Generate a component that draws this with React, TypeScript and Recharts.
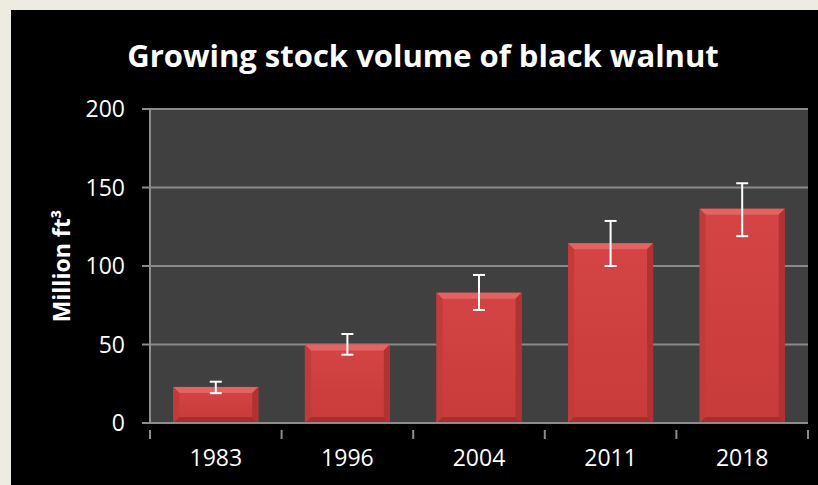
import React from "react";
import { BarChart, Bar, XAxis, YAxis, CartesianGrid, ErrorBar } from "recharts";

const years = ["1983", "1996", "2004", "2011", "2018"];
const volumes = [23, 50, 83, 114.5, 136.5];
const errLow = [4, 6.5, 11, 14.5, 17.5];
const errHigh = [3.3, 6.7, 11.3, 14.2, 16.2];
const yTicks = [0, 50, 100, 150, 200];

const data = years.map((y, i) => ({
  year: y,
  volume: volumes[i],
  err: [errLow[i], errHigh[i]],
}));

const W = 818;
const H = 485;
const M = { top: 109, right: 10, bottom: 0, left: 0 };
const Y_AXIS_W = 150;
const X_AXIS_H = 62;
const FONT = "'Open Sans', 'Liberation Sans', sans-serif";

const BevelBar = (props: any) => {
  const { x, y, width, height } = props;
  if (!height || height <= 0) return null;
  const b = Math.min(6, height / 2, width / 2);
  const x2 = x + width;
  const y2 = y + height;
  return (
    <g>
      <rect x={x} y={y} width={width} height={height} fill="url(#barFace)" />
      <polygon points={`${x},${y} ${x2},${y} ${x2 - b},${y + b} ${x + b},${y + b}`} fill="#e46262" />
      <polygon points={`${x},${y} ${x + b},${y + b} ${x + b},${y2 - b} ${x},${y2}`} fill="#c23a3a" />
      <polygon points={`${x2},${y} ${x2},${y2} ${x2 - b},${y2 - b} ${x2 - b},${y + b}`} fill="#b03232" />
      <polygon points={`${x},${y2} ${x + b},${y2 - b} ${x2 - b},${y2 - b} ${x2},${y2}`} fill="#a82e2e" />
    </g>
  );
};

const plotW = W - M.left - M.right - Y_AXIS_W;
const band = plotW / years.length;

const XTick = (props: any) => {
  const { x, y, payload, index } = props;
  const left = x - band / 2;
  return (
    <g>
      <line x1={left} y1={y - 1} x2={left} y2={y + 8} stroke="#8c8c8c" strokeWidth={2} />
      {index === years.length - 1 && (
        <line x1={x + band / 2} y1={y - 1} x2={x + band / 2} y2={y + 8} stroke="#8c8c8c" strokeWidth={2} />
      )}
      <text x={x} y={y + 35} textAnchor="middle" fill="#ffffff" fontSize={23} fontFamily={FONT}>
        {payload.value}
      </text>
    </g>
  );
};

export default function App() {
  return (
    <div style={{ position: "absolute", left: 0, top: 0, width: W, height: H, background: "#eeebe1", overflow: "hidden" }}>
      <div style={{ position: "absolute", left: 11, top: 10, width: W - 11, height: H - 10, background: "#000000" }} />
      <div
        style={{
          position: "absolute",
          left: 0,
          top: 33,
          width: 846,
          textAlign: "center",
          color: "#ffffff",
          fontFamily: FONT,
          fontWeight: 700,
          fontSize: 31,
          lineHeight: "44px",
        }}
      >
        Growing stock volume of black walnut
      </div>
      <div style={{ position: "absolute", left: 0, top: 0 }}>
        <BarChart width={W} height={H} data={data} margin={M} barCategoryGap="17.7%">
          <defs>
            <linearGradient id="barFace" x1="0" y1="0" x2="0" y2="1">
              <stop offset="0%" stopColor="#d44444" />
              <stop offset="100%" stopColor="#c83b3b" />
            </linearGradient>
          </defs>
          <CartesianGrid vertical={false} horizontal={true} fill="#404040" stroke="#8a8a8a" strokeWidth={2} />
          <XAxis
            dataKey="year"
            height={X_AXIS_H}
            tickLine={false}
            axisLine={{ stroke: "#8c8c8c", strokeWidth: 2 }}
            tick={<XTick />}
            interval={0}
          />
          <YAxis
            width={Y_AXIS_W}
            domain={[0, 200]}
            ticks={yTicks}
            interval={0}
            tickSize={8}
            tickMargin={17}
            tickLine={{ stroke: "#8c8c8c", strokeWidth: 2 }}
            axisLine={{ stroke: "#8c8c8c", strokeWidth: 2 }}
            tick={{ fill: "#ffffff", fontSize: 23, fontFamily: FONT }}
            label={{
              value: "Million ft³",
              angle: -90,
              position: "insideLeft",
              offset: 0,
              dx: 62,
              fill: "#ffffff",
              fontSize: 23,
              fontWeight: 700,
              fontFamily: FONT,
              style: { textAnchor: "middle" },
            }}
          />
          <Bar dataKey="volume" shape={<BevelBar />} isAnimationActive={false}>
            <ErrorBar dataKey="err" stroke="#ffffff" strokeWidth={2} width={6} />
          </Bar>
        </BarChart>
      </div>
    </div>
  );
}
